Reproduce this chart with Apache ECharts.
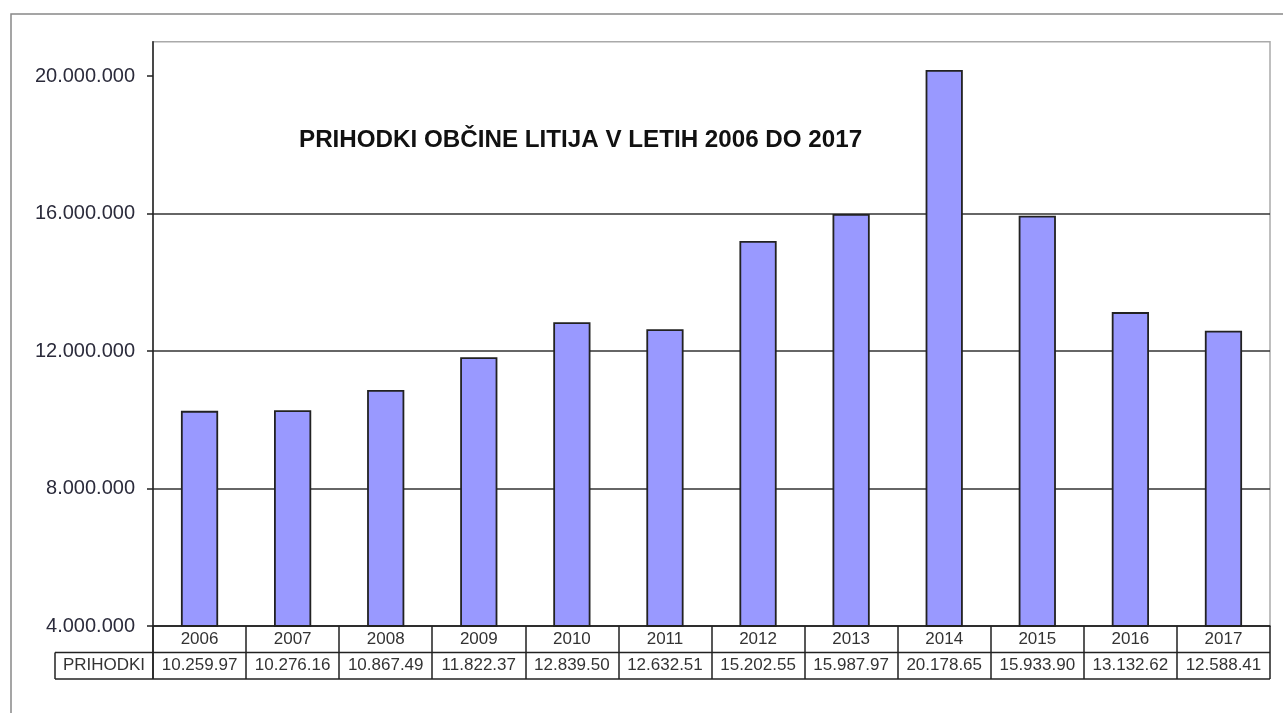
<!DOCTYPE html>
<html>
<head>
<meta charset="utf-8">
<script src="https://cdn.jsdelivr.net/npm/echarts@6/dist/echarts.min.js"></script>
<style>
html,body{margin:0;padding:0;background:#fff;}
#chart{width:1283px;height:713px;}
</style>
</head>
<body>
<div id="chart"></div>
<script>
// ---- data ----
const titleText = 'PRIHODKI OBČINE LITIJA V LETIH 2006 DO 2017';
const rowLabel = 'PRIHODKI';
const years = ['2006','2007','2008','2009','2010','2011','2012','2013','2014','2015','2016','2017'];
const revenues = [10259970, 10276160, 10867490, 11822370, 12839500, 12632510, 15202550, 15987970, 20178650, 15933900, 13132620, 12588410];
const tableValueLabels = ['10.259.97','10.276.16','10.867.49','11.822.37','12.839.50','12.632.51','15.202.55','15.987.97','20.178.65','15.933.90','13.132.62','12.588.41'];
const yTicks = [4000000, 8000000, 12000000, 16000000, 20000000];

// ---- layout ----
const W = 1283, H = 713;
const G = {left: 153, right: 1270, top: 41.7, bottom: 626};
const ROW = 26.5;
const FONT = '"Liberation Sans", Arial, sans-serif';

function fmtDots(v){ return String(v).replace(/\B(?=(\d{3})+(?!\d))/g, '.'); }

const chart = echarts.init(document.getElementById('chart'), null, {renderer:'canvas'});
const option = {
  backgroundColor: '#fff',
  animation: false,
  title: {
    text: titleText,
    left: 294, top: 123,
    textStyle: {fontFamily: FONT, fontSize: 24.2, fontWeight: 'bold', color: '#111'}
  },
  grid: {
    left: G.left, right: W - G.right, top: G.top, bottom: H - G.bottom,
    show: true, borderColor: '#aaa', borderWidth: 1.5, backgroundColor: 'transparent'
  },
  xAxis: {
    type: 'category',
    data: years,
    axisLine: {show: true, lineStyle: {color: '#222', width: 1.5}},
    axisTick: {show: true, interval: 0, length: ROW * 2, lineStyle: {color: '#222', width: 1.5}},
    axisLabel: {
      interval: 0, margin: 0,
      formatter: function(val, idx){ return '{y|' + val + '}\n{v|' + tableValueLabels[idx] + '}'; },
      rich: {
        y: {fontFamily: FONT, fontSize: 17, color: '#333', lineHeight: ROW, height: ROW, verticalAlign: 'middle'},
        v: {fontFamily: FONT, fontSize: 17, color: '#333', lineHeight: ROW, height: ROW, verticalAlign: 'middle'}
      }
    },
    splitLine: {show: false}
  },
  yAxis: {
    type: 'value',
    min: 4000000, max: 21000000, interval: 4000000,
    axisLine: {show: true, lineStyle: {color: '#222', width: 1.5}},
    axisTick: {show: true, length: 6, customValues: yTicks, lineStyle: {color: '#222', width: 1.5}},
    axisLabel: {
      margin: 18, customValues: yTicks,
      fontFamily: FONT, fontSize: 20, color: '#2b2b3b',
      formatter: function(v){ return (v % 4000000 === 0) ? fmtDots(v) : ''; }
    },
    splitLine: {show: true, showMaxLine: false, lineStyle: {color: '#333', width: 1.5}}
  },
  series: [{
    type: 'bar',
    data: revenues,
    barWidth: '40%',
    itemStyle: {color: '#9999ff', borderColor: '#222', borderWidth: 1.8}
  }],
  graphic: [
    // outer frame
    {type: 'rect', shape: {x: 11, y: 14, width: 1400, height: 900}, style: {fill: 'none', stroke: '#888', lineWidth: 1.5}, silent: true, z: -1},
    // table lines
    {type: 'line', shape: {x1: 55, y1: G.bottom + ROW, x2: G.right, y2: G.bottom + ROW}, style: {stroke: '#222', lineWidth: 1.5}},
    {type: 'line', shape: {x1: 55, y1: G.bottom + 2*ROW, x2: G.right, y2: G.bottom + 2*ROW}, style: {stroke: '#222', lineWidth: 1.5}},
    {type: 'line', shape: {x1: 55, y1: G.bottom + ROW, x2: 55, y2: G.bottom + 2*ROW}, style: {stroke: '#222', lineWidth: 1.5}},
    {type: 'line', shape: {x1: G.left, y1: G.bottom, x2: G.left, y2: G.bottom + 2*ROW}, style: {stroke: '#222', lineWidth: 1.5}},
    {type: 'text', x: (55 + G.left) / 2, y: G.bottom + ROW * 1.5,
      style: {text: rowLabel, fontFamily: FONT, fontSize: 17, fill: '#333', align: 'center', verticalAlign: 'middle'}}
  ]
};
chart.setOption(option);
</script>
</body>
</html>
